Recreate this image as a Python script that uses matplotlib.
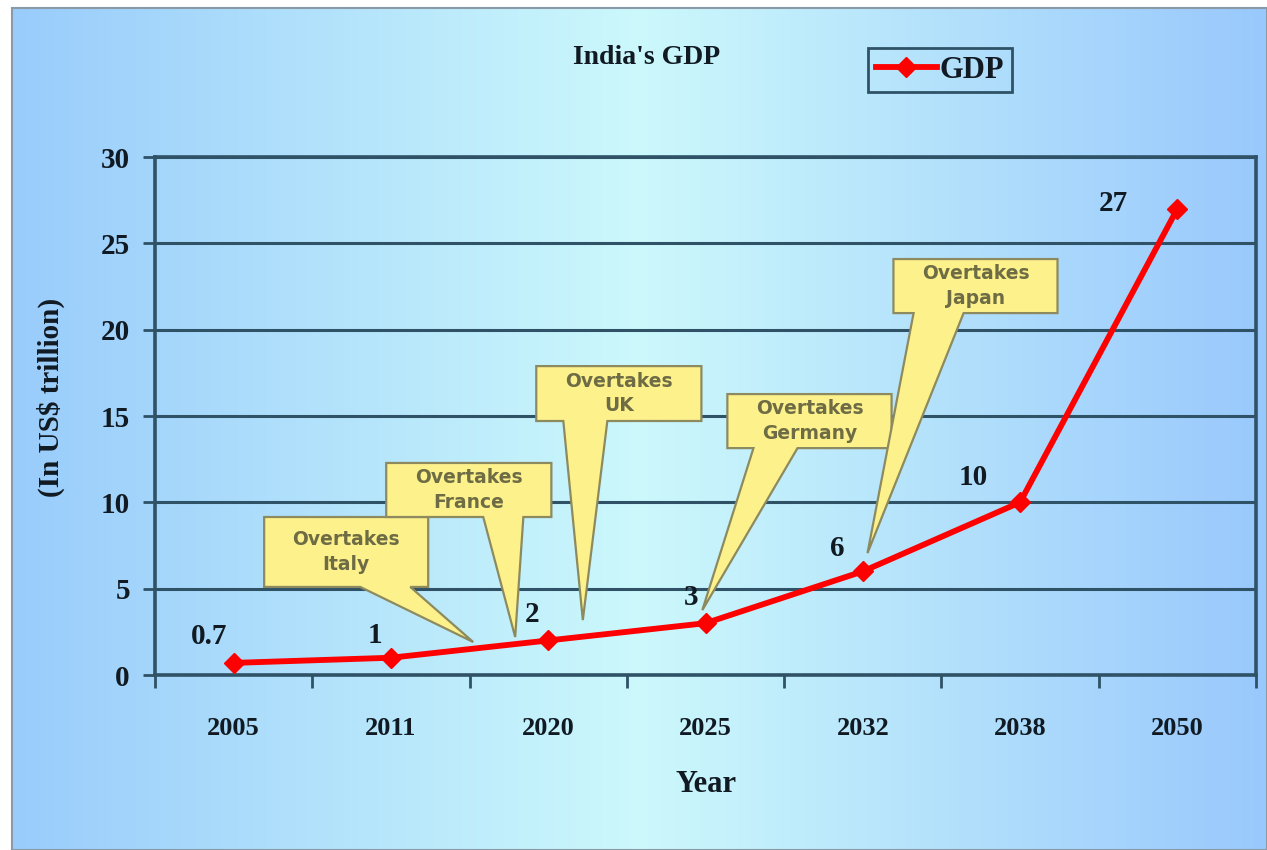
import numpy as np
import matplotlib
matplotlib.use("Agg")
from matplotlib import pyplot as plt
from matplotlib.patches import Polygon, Rectangle

plt.rcParams['font.family'] = ['Liberation Serif', 'DejaVu Serif']
plt.rcParams['font.weight'] = 'bold'

years = ["2005", "2011", "2020", "2025", "2032", "2038", "2050"]
gdp = [0.7, 1, 2, 3, 6, 10, 27]

# label offsets from each point, in pixels (dx, dy)
label_offsets = [(-25, 26), (-16, 22), (-16, 26), (-14, 26), (-26, 23), (-47, 25), (-64, 5)]

callout_texts = ["Overtakes\nItaly", "Overtakes\nFrance", "Overtakes\nUK",
                 "Overtakes\nGermany", "Overtakes\nJapan"]
# box left/right (category units), box bottom/top (y units)
callout_x = [(0.194, 1.237), (0.970, 2.020), (1.924, 2.974), (3.139, 4.183), (4.195, 5.238)]
callout_y = [(5.10, 9.15), (9.15, 12.28), (14.71, 17.89), (13.14, 16.27), (20.96, 24.09)]
# where the pointer leaves the box bottom, and where it ends
callout_base = [(0.805, 1.123), (1.587, 1.842), (2.096, 2.376), (3.305, 3.585), (4.323, 4.641)]
callout_tip = [(1.523, 1.91), (1.79, 2.2), (2.22, 3.18), (2.98, 3.76), (4.03, 7.06)]

W, H = 1267, 850
fig = plt.figure(figsize=(W / 100, H / 100), dpi=100)
fig.patch.set_facecolor('white')

# horizontal gradient background, light cyan in the middle, blue at the sides
bg = fig.add_axes([12 / W, 0, 1 - 12 / W, 842 / H])
t = np.linspace(0, 1, 600)
edge_l = np.array([0.60, 0.80, 0.985])
mid = np.array([0.80, 0.975, 0.985])
edge_r = np.array([0.60, 0.785, 0.99])
cols = np.where((t < 0.5)[:, None],
                edge_l + (mid - edge_l) * (t / 0.5)[:, None],
                mid + (edge_r - mid) * ((t - 0.5) / 0.5)[:, None])
bg.imshow(cols[None, :, :], aspect='auto', extent=[0, 1, 0, 1])
bg.set_xlim(0, 1)
bg.set_ylim(0, 1)
bg.axis('off')
bg.add_patch(Rectangle((0, 0), 1, 1, transform=bg.transAxes, fill=False,
                       edgecolor='#8a9aa6', lw=1.5, clip_on=False))

axis_col = '#2f5266'
text_col = '#111a22'
ax = fig.add_axes([155 / W, 175 / H, 1101 / W, 518 / H])
ax.set_facecolor('none')

x = np.arange(len(years))
ax.plot(x, gdp, color='#ff0000', lw=4.2, marker='D', markersize=10,
        markeredgecolor='#ff0000', zorder=4, label='GDP')

for i, (v, (dx, dy)) in enumerate(zip(gdp, label_offsets)):
    ax.annotate(f"{v:g}", xy=(i, v), xytext=(dx * 0.72, dy * 0.72),
                textcoords='offset points', ha='center', va='center',
                fontsize=21, color=text_col, zorder=5)

for txt, (x0, x1), (y0, y1), (b0, b1), (tx, ty) in zip(
        callout_texts, callout_x, callout_y, callout_base, callout_tip):
    shape = Polygon([(x0, y1), (x1, y1), (x1, y0), (b1, y0), (tx, ty), (b0, y0), (x0, y0)],
                    closed=True, facecolor='#fdf18c', edgecolor='#8c8a5e', lw=1.6, zorder=3)
    ax.add_patch(shape)
    ax.text((x0 + x1) / 2, (y0 + y1) / 2, txt, ha='center', va='center',
            family='DejaVu Sans', fontweight='bold', fontsize=13.5,
            color='#6e6c44', linespacing=1.35, zorder=3.5)

ax.set_xlim(-0.5, len(years) - 0.5)
ax.set_ylim(0, 30)
ax.set_yticks(range(0, 31, 5))
ax.grid(axis='y', color=axis_col, lw=2.2)
ax.set_axisbelow(True)

ax.set_xticks(x)
ax.set_xticklabels(years)
ax.set_xticks(np.arange(-0.5, len(years), 1), minor=True)
ax.tick_params(axis='x', which='major', length=0, pad=30, labelsize=19, labelcolor=text_col)
ax.tick_params(axis='x', which='minor', length=9, width=2, color=axis_col, direction='out')
ax.tick_params(axis='y', length=9, width=2, color=axis_col, pad=9,
               labelsize=21, labelcolor=text_col)

for side in ['left', 'bottom', 'right', 'top']:
    ax.spines[side].set_color(axis_col)
    ax.spines[side].set_linewidth(2.6)

ax.set_xlabel("Year", fontsize=22, fontweight='bold', color=text_col)
ax.xaxis.set_label_coords(0.5005, -0.183)
ax.set_ylabel("(In US$ trillion)", fontsize=21, fontweight='bold', color=text_col)
ax.yaxis.set_label_coords(-0.095, 0.535)
ax.yaxis.label.set_va('center')

fig.text(647 / W, 1 - 57 / H, "India's GDP", ha='center', va='center',
         fontsize=20, color=text_col)

leg = ax.legend(loc='center', bbox_to_anchor=(940 / W, 1 - 70 / H),
                bbox_transform=fig.transFigure, fontsize=22, handlelength=2.0,
                handletextpad=0.1, borderpad=0.25, fancybox=False, framealpha=1)
leg.get_frame().set_facecolor('none')
leg.get_frame().set_edgecolor(axis_col)
leg.get_frame().set_linewidth(2)
for t_ in leg.get_texts():
    t_.set_color(text_col)

fig.savefig("out.png", dpi=100)
